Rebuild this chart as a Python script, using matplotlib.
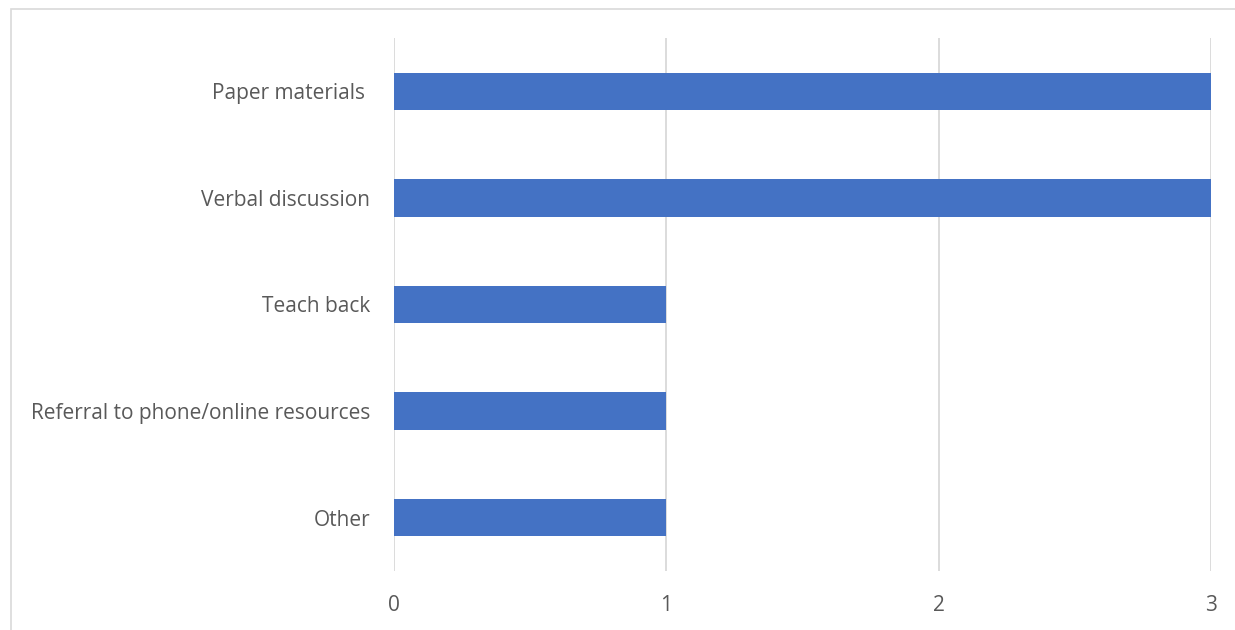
import matplotlib.pyplot as plt
from matplotlib.patches import Rectangle

categories = [
    'Paper materials ',
    'Verbal discussion',
    'Teach back',
    'Referral to phone/online resources',
    'Other',
]
counts = [3, 3, 1, 1, 1]
x_ticks = [0, 1, 2, 3]

W, H = 1235, 630
fig = plt.figure(figsize=(W / 100, H / 100), dpi=100)

# light outer chart border (only top and left edges fall inside the image)
fig.patches.append(Rectangle((11 / W, -0.1), 1.5, 1 - 9 / H + 0.1,
                             transform=fig.transFigure, fill=False,
                             edgecolor='#d9d9d9', linewidth=1.2))

ax = fig.add_axes([394 / W, 1 - 571 / H, (1211 - 394) / W, (571 - 38) / H])
ypos = list(range(len(categories)))
ax.barh(ypos, counts, height=0.35, color='#4472c4', zorder=3)

ax.set_xlim(0, 3)
ax.set_ylim(len(categories) - 0.5, -0.5)
ax.set_xticks(x_ticks)
ax.set_yticks(ypos)
ax.set_yticklabels(categories)
ax.xaxis.grid(True, color='#d9d9d9', linewidth=1.3, zorder=0)
ax.set_axisbelow(True)
for s in ax.spines.values():
    s.set_visible(False)
ax.tick_params(axis='both', length=0, labelsize=15, labelcolor='#595959')
ax.tick_params(axis='y', pad=17)
ax.tick_params(axis='x', pad=17)
for lab in ax.get_xticklabels() + ax.get_yticklabels():
    lab.set_family('Open Sans')

fig.savefig('out.png', dpi=100)
